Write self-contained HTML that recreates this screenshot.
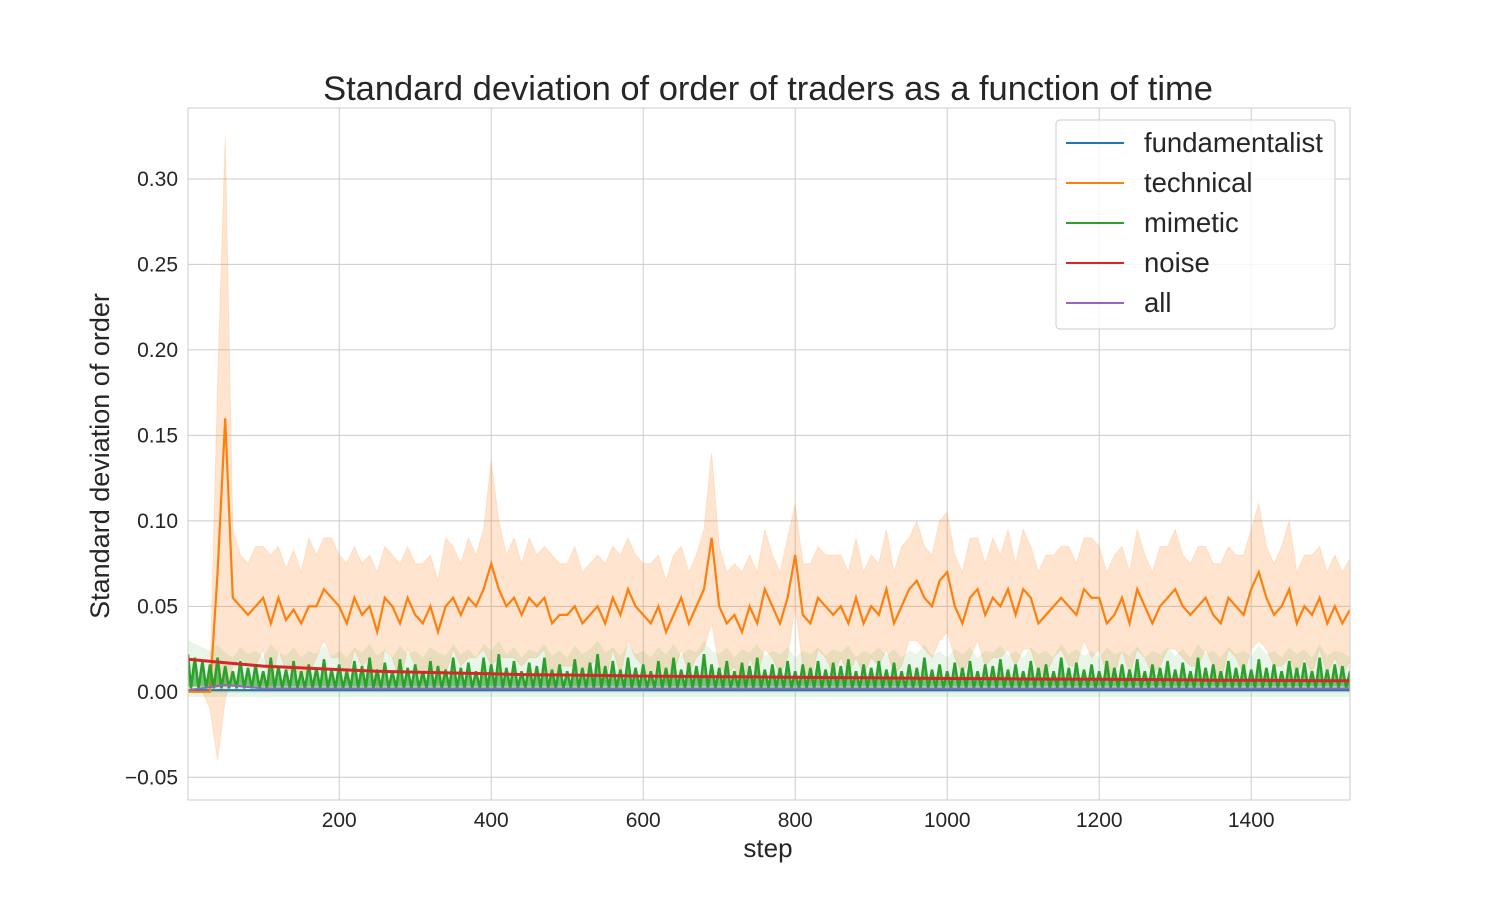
<!DOCTYPE html>
<html><head><meta charset="utf-8">
<style>
html,body{margin:0;padding:0;background:#fff;}
svg{display:block;font-family:"Liberation Sans",Arial,sans-serif;}
</style></head>
<body>
<svg id="chart" width="1500" height="900" viewBox="0 0 1500 900" xmlns="http://www.w3.org/2000/svg">
  <defs><clipPath id="plotclip"><rect x="188" y="108" width="1162" height="692"/></clipPath></defs>
  <rect width="1500" height="900" fill="#fff"/>
  <g id="grid"></g>
  <g id="series" clip-path="url(#plotclip)"></g>
  <rect x="188" y="108" width="1162" height="692" fill="none" stroke="#cccccc" stroke-width="1"/>
  <g id="ticks"></g>
  <text x="768" y="100" text-anchor="middle" font-size="34.5" fill="#262626">Standard deviation of order of traders as a function of time</text>
  <text x="768" y="857" text-anchor="middle" font-size="26" fill="#262626">step</text>
  <text transform="translate(109,456) rotate(-90)" text-anchor="middle" font-size="27" fill="#262626">Standard deviation of order</text>
  <g id="legend">
    <rect x="1056" y="120" width="279" height="209" rx="4" fill="#fff" fill-opacity="0.8" stroke="#cccccc"/>
  </g>
</svg>
<script>
const STEP = 10;
const xTicks = [200,400,600,800,1000,1200,1400];
const yTicks = [-0.05,0,0.05,0.10,0.15,0.20,0.25,0.30];
const yTickLabels = ["\u22120.05","0.00","0.05","0.10","0.15","0.20","0.25","0.30"];
const seriesNames = ["fundamentalist","technical","mimetic","noise","all"];
const seriesColors = ["#1f77b4","#ff7f0e","#2ca02c","#d62728","#9467bd"];

const technicalMean = [0,0,0,0,0.07,0.16,0.055,0.05,0.045,0.05,0.055,0.04,0.055,0.042,0.048,0.04,0.05,0.05,0.06,0.055,
0.05,0.04,0.055,0.045,0.05,0.035,0.055,0.05,0.04,0.055,0.045,0.04,0.05,0.035,0.05,0.055,0.045,0.055,0.05,0.06,
0.075,0.06,0.05,0.055,0.045,0.055,0.05,0.055,0.04,0.045,0.045,0.05,0.04,0.045,0.05,0.04,0.055,0.045,0.06,0.05,
0.045,0.04,0.05,0.035,0.045,0.055,0.04,0.05,0.06,0.09,0.05,0.04,0.045,0.035,0.05,0.04,0.06,0.05,0.04,0.055,
0.08,0.045,0.04,0.055,0.05,0.045,0.05,0.04,0.055,0.04,0.05,0.045,0.06,0.04,0.05,0.06,0.065,0.055,0.05,0.065,
0.07,0.05,0.04,0.055,0.06,0.045,0.055,0.05,0.06,0.045,0.06,0.055,0.04,0.045,0.05,0.055,0.05,0.045,0.06,0.055,
0.055,0.04,0.045,0.055,0.04,0.06,0.05,0.04,0.05,0.055,0.06,0.05,0.045,0.05,0.055,0.045,0.04,0.055,0.05,0.045,
0.06,0.07,0.055,0.045,0.05,0.06,0.04,0.05,0.045,0.055,0.04,0.05,0.04,0.048];
const technicalSpread = [0,0,0,0.01,0.11,0.165,0.04,0.03,0.03,0.035,0.03,0.04,0.03,0.03,0.035,0.03,0.04,0.03,0.03,0.035,
0.03,0.035,0.03,0.03,0.03,0.035,0.03,0.03,0.035,0.03,0.03,0.035,0.03,0.03,0.04,0.03,0.03,0.035,0.03,0.035,
0.06,0.04,0.03,0.035,0.03,0.035,0.03,0.03,0.04,0.03,0.03,0.035,0.03,0.03,0.03,0.035,0.03,0.035,0.03,0.03,
0.03,0.035,0.03,0.03,0.035,0.03,0.03,0.03,0.035,0.05,0.035,0.03,0.03,0.035,0.03,0.03,0.035,0.03,0.03,0.035,
0.03,0.03,0.035,0.03,0.03,0.035,0.03,0.03,0.035,0.03,0.03,0.03,0.035,0.03,0.035,0.03,0.035,0.03,0.03,0.035,
0.035,0.03,0.03,0.035,0.03,0.03,0.035,0.03,0.035,0.03,0.035,0.03,0.03,0.035,0.03,0.03,0.035,0.03,0.03,0.035,
0.03,0.03,0.035,0.03,0.03,0.035,0.03,0.03,0.035,0.03,0.035,0.03,0.03,0.035,0.03,0.03,0.035,0.03,0.03,0.035,
0.035,0.04,0.03,0.03,0.035,0.04,0.03,0.03,0.035,0.03,0.03,0.03,0.03,0.03];
const mimeticHigh = [0.022,0.02,0.018,0.016,0.02,0.015,0.012,0.018,0.014,0.016,0.012,0.02,0.015,0.013,0.018,0.012,0.016,0.014,0.019,0.013,
0.016,0.012,0.018,0.015,0.02,0.013,0.017,0.012,0.019,0.014,0.016,0.012,0.018,0.015,0.013,0.02,0.014,0.017,0.012,0.02,
0.016,0.022,0.014,0.018,0.012,0.017,0.015,0.02,0.013,0.016,0.012,0.019,0.014,0.017,0.022,0.015,0.018,0.013,0.02,0.014,
0.016,0.012,0.018,0.014,0.02,0.013,0.017,0.015,0.022,0.016,0.014,0.018,0.012,0.017,0.015,0.02,0.013,0.016,0.014,0.018,
0.012,0.016,0.014,0.018,0.013,0.017,0.015,0.019,0.012,0.016,0.014,0.018,0.013,0.017,0.012,0.016,0.014,0.02,0.013,0.016,
0.012,0.017,0.014,0.018,0.012,0.016,0.015,0.019,0.013,0.016,0.012,0.018,0.014,0.016,0.012,0.02,0.014,0.017,0.013,0.016,
0.012,0.018,0.014,0.016,0.013,0.019,0.012,0.016,0.014,0.018,0.013,0.017,0.012,0.02,0.014,0.016,0.012,0.018,0.014,0.016,
0.013,0.019,0.014,0.016,0.012,0.018,0.014,0.017,0.012,0.02,0.013,0.016,0.015,0.012];
const mimeticLow = 0.002;
const NOISE_STEP = 50;
const noiseValues = [0.019,0.017,0.015,0.014,0.013,0.012,0.0115,0.011,0.0105,0.010,0.0098,0.0095,0.0092,0.009,0.0088,0.0087,0.0085,0.0083,0.0082,0.008,0.0078,0.0077,0.0075,0.0074,0.0073,0.0072,0.007,0.0068,0.0067,0.0066,0.0065,0.0064];
const allValues = [0.001,0.004,0.002,0.002,0.002,0.002,0.002,0.002,0.002,0.002,0.002,0.002,0.002,0.002,0.002,0.002,0.002,0.002,0.002,0.002,0.002,0.002,0.002,0.002,0.002,0.002,0.002,0.002,0.002,0.002,0.002,0.002];
const fundValues = [0.001,0.001,0.001,0.001,0.001,0.001,0.001,0.001,0.001,0.001,0.001,0.001,0.001,0.001,0.001,0.001,0.001,0.001,0.001,0.001,0.001,0.001,0.001,0.001,0.001,0.001,0.001,0.001,0.001,0.001,0.001,0.001];

const NS = "http://www.w3.org/2000/svg";
const X0 = 188, X1 = 1350, Y0 = 108, Y1 = 800;
const xMin = 1, xMax = 1530, yMin = -0.0633, yMax = 0.3415;
function xs(v){ return X0 + (v - xMin) / (xMax - xMin) * (X1 - X0); }
function ys(v){ return Y1 - (v - yMin) / (yMax - yMin) * (Y1 - Y0); }
function mk(tag, attrs, parent){ const e = document.createElementNS(NS, tag); for (const k in attrs) e.setAttribute(k, attrs[k]); parent.appendChild(e); return e; }
function clampX(s){ return Math.min(Math.max(s, xMin), xMax); }

const grid = document.getElementById('grid');
const ticks = document.getElementById('ticks');
xTicks.forEach(t => {
  const l = mk('line', {x1: xs(t), x2: xs(t), y1: Y0, y2: Y1, stroke: '#cccccc', 'stroke-width': 1}, grid);
  
  
  const tx = mk('text', {x: xs(t), y: Y1 + 27, 'text-anchor': 'middle', 'font-size': 21, fill: '#262626'}, ticks);
  tx.textContent = t;
  
  
});
yTicks.forEach((t, i) => {
  const l = mk('line', {x1: X0, x2: X1, y1: ys(t), y2: ys(t), stroke: '#cccccc', 'stroke-width': 1}, grid);
  
  
  const tx = mk('text', {x: X0 - 10, y: ys(t) + 7, 'text-anchor': 'end', 'font-size': 21, fill: '#262626'}, ticks);
  tx.textContent = yTickLabels[i];
  
  
});

const ser = document.getElementById('series');
function linePath(vals, step){ return vals.map((v, i) => (i ? 'L' : 'M') + xs(clampX(i * step)).toFixed(1) + ',' + ys(v).toFixed(1)).join(''); }

let up = technicalMean.map((v, i) => [xs(clampX(i * STEP)), ys(v + technicalSpread[i])]);
let lo = technicalMean.map((v, i) => [xs(clampX(i * STEP)), ys(v - technicalSpread[i])]).reverse();
const band = mk('path', {d: 'M' + up.concat(lo).map(p => p[0].toFixed(1) + ',' + p[1].toFixed(1)).join('L') + 'Z', fill: '#ff7f0e', 'fill-opacity': 0.2, stroke: '#ff7f0e', 'stroke-opacity': 0.15}, ser);



let mu = mimeticHigh.map((v, i) => [xs(clampX(i * STEP)), ys(v + 0.008)]);
let ml = mimeticHigh.map((v, i) => [xs(clampX(i * STEP)), ys(-0.003)]).reverse();
const mband = mk('path', {d: 'M' + mu.concat(ml).map(p => p[0].toFixed(1) + ',' + p[1].toFixed(1)).join('L') + 'Z', fill: '#2ca02c', 'fill-opacity': 0.1}, ser);



const fl = mk('path', {d: linePath(fundValues, NOISE_STEP), fill: 'none', stroke: seriesColors[0], 'stroke-width': 2}, ser);



const tl = mk('path', {d: linePath(technicalMean, STEP), fill: 'none', stroke: seriesColors[1], 'stroke-width': 2.2}, ser);



let md = '';
mimeticHigh.forEach((v, i) => {
  const s = i * STEP;
  md += (i ? 'L' : 'M') + xs(clampX(s)).toFixed(1) + ',' + ys(v).toFixed(1);
  md += 'L' + xs(clampX(s + STEP / 2)).toFixed(1) + ',' + ys(mimeticLow).toFixed(1);
});
const mfill = mk('path', {d: md + 'L' + xs(xMax) + ',' + ys(0.003) + 'L' + xs(xMin) + ',' + ys(0.003) + 'Z', fill: seriesColors[2], 'fill-opacity': 0.6, stroke: 'none'}, ser);


const mlp = mk('path', {d: md, fill: 'none', stroke: seriesColors[2], 'stroke-width': 2.5}, ser);



const nl = mk('path', {d: linePath(noiseValues, NOISE_STEP), fill: 'none', stroke: seriesColors[3], 'stroke-width': 3}, ser);



const al = mk('path', {d: linePath(allValues, NOISE_STEP), fill: 'none', stroke: seriesColors[4], 'stroke-width': 2}, ser);



const leg = document.getElementById('legend');
seriesNames.forEach((n, i) => {
  const y = 143 + i * 40;
  const l = mk('line', {x1: 1066, x2: 1124, y1: y, y2: y, stroke: seriesColors[i], 'stroke-width': 2}, leg);
  
  
  const t = mk('text', {x: 1144, y: y + 9, 'font-size': 27.5, fill: '#262626'}, leg);
  t.textContent = n;
  
  
});
</script>
</body></html>
